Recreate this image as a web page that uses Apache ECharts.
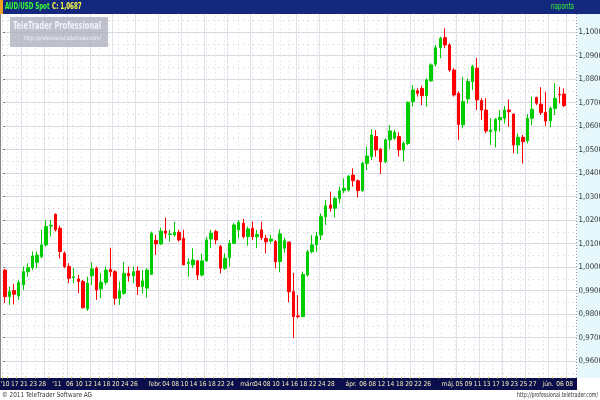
<!DOCTYPE html>
<html><head><meta charset="utf-8">
<script src="https://cdn.jsdelivr.net/npm/echarts@6/dist/echarts.min.js"></script>
<style>html,body{margin:0;padding:0;background:#fff}#c{width:600px;height:400px}</style>
</head><body><div id="c"></div>
<script>
const dates = [
'2010-12-16','2010-12-17','2010-12-20','2010-12-21','2010-12-22','2010-12-23','2010-12-27','2010-12-28','2010-12-29','2010-12-30',
'2011-01-03','2011-01-04','2011-01-05','2011-01-06','2011-01-07','2011-01-10','2011-01-11','2011-01-12','2011-01-13','2011-01-14',
'2011-01-17','2011-01-18','2011-01-19','2011-01-20','2011-01-21','2011-01-24','2011-01-25','2011-01-26','2011-01-27','2011-01-28','2011-01-31',
'2011-02-01','2011-02-02','2011-02-03','2011-02-04','2011-02-07','2011-02-08','2011-02-09','2011-02-10','2011-02-11','2011-02-14',
'2011-02-15','2011-02-16','2011-02-17','2011-02-18','2011-02-21','2011-02-22','2011-02-23','2011-02-24','2011-02-25','2011-02-28',
'2011-03-01','2011-03-02','2011-03-03','2011-03-04','2011-03-07','2011-03-08','2011-03-09','2011-03-10','2011-03-11','2011-03-14',
'2011-03-15','2011-03-16','2011-03-17','2011-03-18','2011-03-21','2011-03-22','2011-03-23','2011-03-24','2011-03-25','2011-03-28',
'2011-03-29','2011-03-30','2011-03-31',
'2011-04-01','2011-04-04','2011-04-05','2011-04-06','2011-04-07','2011-04-08','2011-04-11','2011-04-12','2011-04-13','2011-04-14',
'2011-04-15','2011-04-18','2011-04-19','2011-04-20','2011-04-21','2011-04-22','2011-04-25','2011-04-26','2011-04-27','2011-04-28','2011-04-29',
'2011-05-02','2011-05-03','2011-05-04','2011-05-05','2011-05-06','2011-05-09','2011-05-10','2011-05-11','2011-05-12','2011-05-13',
'2011-05-16','2011-05-17','2011-05-18','2011-05-19','2011-05-20','2011-05-23','2011-05-24','2011-05-25','2011-05-26','2011-05-27',
'2011-05-30','2011-05-31',
'2011-06-01','2011-06-02','2011-06-03','2011-06-06','2011-06-07','2011-06-08'
];
const opens = [
0.9987,0.9874,0.9900,0.9877,0.9924,0.9980,0.9997,1.0020,1.0044,1.0094,
1.0174,1.0224,1.0165,1.0058,1.0002,0.9955,0.9949,0.9938,0.9822,0.9963,
0.9995,0.9907,0.9935,0.9990,0.9980,0.9867,0.9888,0.9973,0.9963,0.9983,
0.9917,0.9910,0.9969,1.0113,1.0098,1.0153,1.0138,1.0136,1.0148,1.0122,
1.0016,1.0009,1.0026,0.9966,1.0026,1.0119,1.0151,1.0087,0.9995,1.0040,
1.0101,1.0158,1.0186,1.0129,1.0165,1.0129,1.0158,1.0122,1.0111,1.0108,
1.0023,1.0080,1.0106,0.9895,0.9792,0.9789,0.9966,1.0065,1.0094,1.0136,
1.0214,1.0264,1.0250,1.0292,1.0325,1.0328,1.0391,1.0367,1.0325,1.0441,
1.0469,1.0555,1.0502,1.0448,1.0541,1.0548,1.0555,1.0498,1.0526,1.0704,
1.0750,1.0760,1.0729,1.0792,1.0863,1.0933,1.0976,1.0945,1.0838,1.0739,
1.0605,1.0715,1.0789,1.0846,1.0708,1.0668,1.0576,1.0580,1.0626,1.0633,
1.0668,1.0651,1.0519,1.0552,1.0537,1.0633,1.0721,1.0693,1.0658,1.0622,
1.0675,1.0735,1.0736
];
const closes = [
0.9874,0.9895,0.9884,0.9934,0.9980,0.9997,1.0047,1.0051,1.0094,1.0172,
1.0177,1.0158,1.0066,1.0002,0.9952,0.9958,0.9938,0.9827,0.9931,0.9992,
0.9902,0.9935,0.9987,0.9980,0.9867,0.9898,0.9973,0.9963,0.9980,0.9917,
0.9941,0.9987,1.0144,1.0098,1.0153,1.0144,1.0141,1.0148,1.0115,1.0009,
1.0020,1.0030,0.9966,1.0026,1.0115,1.0144,1.0115,0.9995,1.0037,1.0101,
1.0179,1.0190,1.0129,1.0162,1.0129,1.0139,1.0125,1.0107,1.0119,1.0022,
1.0141,1.0112,0.9895,0.9789,0.9789,0.9968,1.0065,1.0094,1.0132,1.0214,
1.0260,1.0250,1.0292,1.0324,1.0335,1.0387,1.0367,1.0325,1.0441,1.0472,
1.0562,1.0498,1.0448,1.0541,1.0579,1.0573,1.0498,1.0526,1.0701,1.0753,
1.0739,1.0729,1.0796,1.0860,1.0933,1.0973,1.0945,1.0838,1.0732,1.0607,
1.0704,1.0789,1.0853,1.0711,1.0668,1.0579,1.0583,1.0629,1.0636,1.0668,
1.0661,1.0519,1.0552,1.0533,1.0633,1.0671,1.0697,1.0657,1.0621,1.0675,
1.0718,1.0732,1.0687
];
const lows = [
0.9846,0.9839,0.9841,0.9860,0.9902,0.9959,0.9987,0.9995,1.0037,1.0087,
1.0130,1.0151,1.0037,0.9995,0.9931,0.9931,0.9888,0.9824,0.9813,0.9924,
0.9860,0.9867,0.9924,0.9959,0.9839,0.9839,0.9881,0.9938,0.9931,0.9881,
0.9888,0.9870,0.9966,1.0051,1.0094,1.0122,1.0108,1.0129,1.0108,1.0009,
0.9959,0.9995,0.9945,0.9959,1.0023,1.0080,1.0097,0.9973,0.9987,1.0002,
1.0097,1.0122,1.0122,1.0091,1.0115,1.0080,1.0115,1.0058,1.0101,0.9994,
0.9978,1.0060,0.9850,0.9697,0.9782,0.9786,0.9959,1.0058,1.0065,1.0115,
1.0179,1.0236,1.0211,1.0271,1.0314,1.0321,1.0342,1.0296,1.0321,1.0413,
1.0455,1.0469,1.0396,1.0441,1.0502,1.0541,1.0470,1.0449,1.0519,1.0682,
1.0725,1.0689,1.0682,1.0789,1.0853,1.0888,1.0931,1.0831,1.0725,1.0541,
1.0590,1.0697,1.0753,1.0668,1.0626,1.0569,1.0519,1.0509,1.0576,1.0611,
1.0597,1.0484,1.0481,1.0441,1.0526,1.0604,1.0689,1.0647,1.0600,1.0594,
1.0647,1.0696,1.0680
];
const highs = [
0.9990,0.9917,0.9928,0.9945,1.0002,1.0016,1.0066,1.0066,1.0158,1.0200,
1.0200,1.0228,1.0176,1.0066,1.0016,0.9995,0.9966,0.9945,0.9959,1.0020,
1.0002,0.9973,1.0002,1.0082,0.9987,0.9938,1.0023,1.0002,1.0002,1.0002,
0.9987,0.9995,1.0151,1.0137,1.0167,1.0210,1.0158,1.0193,1.0158,1.0158,
1.0037,1.0080,1.0030,1.0058,1.0129,1.0158,1.0158,1.0094,1.0058,1.0115,
1.0186,1.0200,1.0204,1.0172,1.0193,1.0158,1.0193,1.0136,1.0137,1.0115,
1.0160,1.0125,1.0108,0.9975,0.9880,0.9980,1.0072,1.0136,1.0150,1.0228,
1.0285,1.0321,1.0300,1.0342,1.0377,1.0391,1.0420,1.0373,1.0448,1.0512,
1.0586,1.0583,1.0505,1.0548,1.0604,1.0583,1.0573,1.0534,1.0704,1.0775,
1.0760,1.0772,1.0803,1.0867,1.0945,1.0980,1.1016,1.0952,1.0846,1.0746,
1.0810,1.0803,1.0860,1.0890,1.0718,1.0718,1.0633,1.0633,1.0668,1.0685,
1.0713,1.0651,1.0569,1.0562,1.0651,1.0725,1.0725,1.0765,1.0746,1.0682,
1.0782,1.0767,1.0760
];
const tickDates = ['2010-12-16','2010-12-17','2010-12-21','2010-12-23','2010-12-28','2011-01-03','2011-01-06','2011-01-10','2011-01-12','2011-01-14','2011-01-18','2011-01-20','2011-01-24','2011-01-26','2011-02-01','2011-02-04','2011-02-08','2011-02-10','2011-02-14','2011-02-16','2011-02-18','2011-02-22','2011-02-24','2011-03-01','2011-03-04','2011-03-08','2011-03-10','2011-03-14','2011-03-16','2011-03-18','2011-03-22','2011-03-24','2011-03-28','2011-04-01','2011-04-06','2011-04-08','2011-04-12','2011-04-14','2011-04-18','2011-04-20','2011-04-22','2011-04-26','2011-05-02','2011-05-05','2011-05-09','2011-05-11','2011-05-13','2011-05-17','2011-05-19','2011-05-23','2011-05-25','2011-05-27','2011-06-01','2011-06-06','2011-06-08'];
const tickLabels = ["'10",'17','21','23','28',"'11",'06','10','12','14','18','20','24','26','febr.','04','08','10','14','16','18','22','24','márc.','04','08','10','14','16','18','22','24','28','ápr.','06','08','12','14','18','20','22','26','máj.','05','09','11','13','17','19','23','25','27','jún.','06','08'];
const symbolName = 'AUD/USD Spot';
const periodName = 'naponta';
const watermarkTitle = 'TeleTrader Professional';
const watermarkUrl = 'http://professional.teletrader.com/';
const copyrightText = '© 2011 TeleTrader Software AG';
const footerUrl = 'http://professional.teletrader.com/';
const yMin = 0.95, yMax = 1.11;

const ctx = document.createElement('canvas').getContext('2d');
function hasFont(name) {
  const t = '0123456789 febr. márc. TeleTrader';
  ctx.font = '20px monospace';
  const w1 = ctx.measureText(t).width;
  ctx.font = "20px '" + name + "', monospace";
  return Math.abs(ctx.measureText(t).width - w1) > 0.5;
}
let narrow = "'Liberation Sans',Arial,sans-serif", isNarrow = false;
if (hasFont('Liberation Sans Narrow')) { narrow = "'Liberation Sans Narrow'," + narrow; isNarrow = true; }
else if (hasFont('DejaVu Sans Condensed')) { narrow = "'DejaVu Sans Condensed'," + narrow; isNarrow = true; }
function fitScale(text, font, target) {
  ctx.font = font;
  return target / ctx.measureText(text).width;
}
const xFont = isNarrow ? 6.6 : 5.8;
const yFont = isNarrow ? 7.8 : 6.8;
const wmFont = 'bold 11px ' + narrow;
const wmUrlFont = '6px ' + narrow;
const footFont = '7px ' + narrow;
const headFont = 'bold 8px ' + narrow;

const labelMap = {};
tickDates.forEach((d, i) => { labelMap[d] = tickLabels[i]; });
const firstDate = dates[0];
const fmt = v => v.toFixed(4).replace('.', ',');
const lastClose = closes[closes.length - 1];
const headerText = symbolName + ' C: ' + fmt(lastClose);
const candleData = dates.map((d, i) => [opens[i], closes[i], lows[i], highs[i]]);

const chart = echarts.init(document.getElementById('c'), null, {renderer: 'canvas'});
chart.setOption({
  animation: false,
  backgroundColor: '#ffffff',
  grid: [
    {left: 2.7, right: 33.7, top: 8.5, bottom: 15.5, containLabel: false, outerBoundsMode: 'none'},
    {left: 3, right: 23, top: 8.5, bottom: 15.5, containLabel: false, outerBoundsMode: 'none'}
  ],
  xAxis: [
    {type: 'category', gridIndex: 0, position: 'bottom', data: dates, boundaryGap: true, offset: -6, z: 200,
     axisLine: {show: false},
     axisTick: {show: true, interval: (i, v) => !!labelMap[v], length: 2, inside: true, lineStyle: {color: '#d8d070'}},
     splitLine: {show: false},
     axisLabel: {interval: 0, margin: 2.5, align: 'left', padding: [0, 0, 0, 1.5], color: '#f4eec0', fontSize: xFont, fontFamily: narrow,
                 formatter: v => (v === firstDate ? '' : (labelMap[v] || ''))}},
    {type: 'category', gridIndex: 0, position: 'bottom', data: dates, boundaryGap: true,
     axisLine: {show: false}, axisTick: {show: false}, axisLabel: {show: false},
     splitLine: {show: true, interval: (i) => i % 5 === 4, lineStyle: {color: '#e2e2ea', width: 1}}},
    {type: 'category', gridIndex: 0, position: 'bottom', data: dates, boundaryGap: false,
     axisLine: {show: false}, axisTick: {show: false}, axisLabel: {show: false},
     splitLine: {show: true, interval: (i, v) => !!labelMap[v], lineStyle: {color: '#d4d4de', width: 1, type: [1, 3]}}},
    {type: 'value', gridIndex: 1, position: 'bottom', min: 0, max: 1, show: false},
    {type: 'category', gridIndex: 0, position: 'bottom', data: dates, boundaryGap: true, offset: -6, z: 200,
     axisLine: {show: false}, axisTick: {show: false}, splitLine: {show: false},
     axisLabel: {interval: 0, margin: 2.5, align: 'center', color: '#f4eec0', fontSize: xFont, fontFamily: narrow,
                 formatter: v => (v === firstDate ? (labelMap[v] || '') : '')}}
  ],
  yAxis: [
    {type: 'value', gridIndex: 0, min: yMin, max: yMax, show: false, splitLine: {show: false}},
    {type: 'value', gridIndex: 1, position: 'right', min: yMin, max: yMax, interval: 0.01,
     axisLine: {show: false},
     axisTick: {show: true, length: 2, lineStyle: {color: '#777'}},
     splitLine: {show: true, lineStyle: {color: '#dcdce4', width: 1}},
     axisLabel: {margin: 1.5, color: '#333', fontSize: yFont, fontFamily: narrow, formatter: v => fmt(v)}},
    {type: 'value', gridIndex: 1, position: 'right', min: yMin, max: yMax, interval: 0.005,
     axisLine: {show: false}, axisTick: {show: false}, axisLabel: {show: false},
     splitLine: {show: true, lineStyle: {color: '#d0d0da', width: 1, type: [1, 4]}}}
  ],
  series: [
    {type: 'candlestick', xAxisIndex: 0, yAxisIndex: 0, data: candleData, barWidth: 3,
     itemStyle: {color: '#00cc00', color0: '#ff0000', borderColor: '#00cc00', borderColor0: '#ff0000', borderWidth: 1}},
    {type: 'line', xAxisIndex: 3, yAxisIndex: 1, data: [], silent: true,
     markLine: {silent: true, symbol: 'none', lineStyle: {opacity: 0},
       label: {show: true, position: 'end', distance: 0, formatter: () => fmt(lastClose),
               backgroundColor: '#ffff33', color: '#222', fontSize: yFont, fontFamily: narrow, padding: [1, 1.5]},
       data: [{yAxis: lastClose}]}}
  ],
  graphic: [
    {type: 'rect', z: -5, shape: {x: 577, y: 14, width: 23, height: 364}, style: {fill: '#e6f8fc'}},
    {type: 'line', z: 50, shape: {x1: 576.5, y1: 14, x2: 576.5, y2: 378}, style: {stroke: '#999', lineWidth: 1, lineDash: [1, 2]}},
    {type: 'line', z: 50, shape: {x1: 0.5, y1: 14, x2: 0.5, y2: 378}, style: {stroke: '#888', lineWidth: 1}},
    {type: 'rect', z: 100, shape: {x: 0, y: 0, width: 600, height: 14}, style: {fill: '#14287e'}},
    {type: 'rect', z: 101, shape: {x: 0, y: 0, width: 3, height: 14}, style: {fill: '#f0a020'}},
    {type: 'text', z: 102, x: 5, y: 7, scaleX: fitScale(headerText, headFont, 76), style: {
       text: '{a|' + symbolName + '} {b|C: ' + fmt(lastClose) + '}', verticalAlign: 'middle',
       rich: {a: {fill: '#33ff33', font: headFont}, b: {fill: '#ffff44', font: headFont}}}},
    {type: 'text', z: 102, x: 551, y: 7, scaleX: fitScale(periodName, '8px ' + narrow, 23),
     style: {text: periodName, fill: '#33ff33', font: '8px ' + narrow, verticalAlign: 'middle'}},
    {type: 'rect', z: 100, shape: {x: 0, y: 378, width: 577, height: 12}, style: {fill: '#0a0e4a'}},
    {type: 'rect', z: 100, shape: {x: 577, y: 378, width: 23, height: 12}, style: {fill: '#ffffff'}},
    {type: 'rect', z: 100, shape: {x: 0, y: 390, width: 600, height: 10}, style: {fill: '#ffffff'}},
    {type: 'text', z: 102, x: 2, y: 395, scaleX: fitScale(copyrightText, footFont, 90),
     style: {text: copyrightText, fill: '#333', font: footFont, verticalAlign: 'middle'}},
    {type: 'text', z: 102, x: 517, y: 395, scaleX: fitScale(footerUrl, footFont, 81),
     style: {text: footerUrl, fill: '#333', font: footFont, verticalAlign: 'middle'}},
    {type: 'rect', z: 90, shape: {x: 10, y: 17, width: 98, height: 30}, style: {fill: 'rgba(172,175,188,0.78)'}},
    {type: 'text', z: 91, x: 13, y: 26, scaleX: fitScale(watermarkTitle, wmFont, 88),
     style: {text: watermarkTitle, fill: '#eef2fa', font: wmFont, verticalAlign: 'middle'}},
    {type: 'text', z: 91, x: 24, y: 38, scaleX: fitScale(watermarkUrl, wmUrlFont, 77),
     style: {text: watermarkUrl, fill: '#eef2fa', font: wmUrlFont, verticalAlign: 'middle'}}
  ]
});
</script>
</body></html>
